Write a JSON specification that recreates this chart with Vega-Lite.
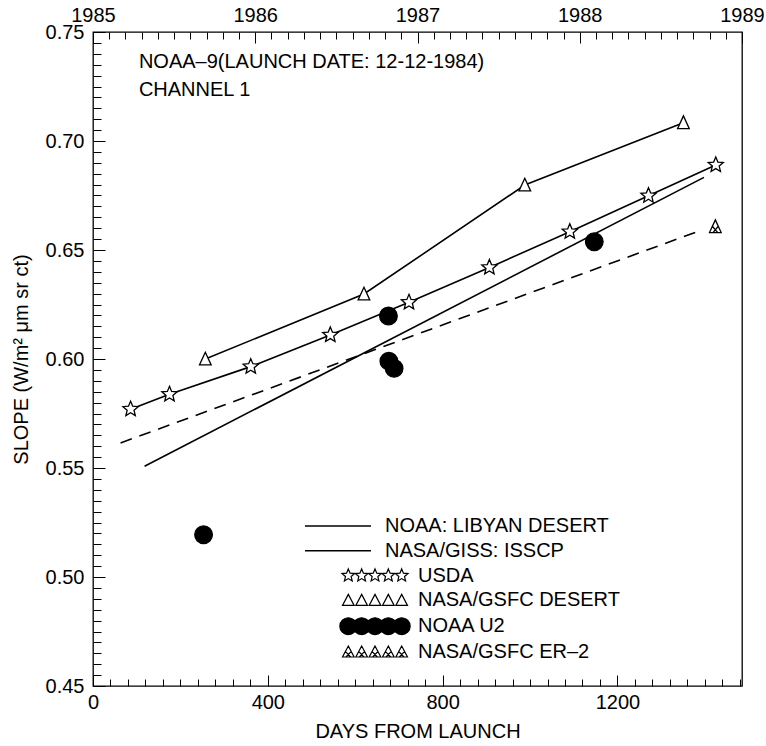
{
  "$schema": "https://vega.github.io/schema/vega-lite/v6.json",
  "width": 649,
  "height": 654,
  "autosize": {"type": "none"},
  "padding": {"left": 93, "top": 32, "right": 24, "bottom": 60},
  "datasets": {
    "obs": [
      {"series": "USDA", "days": 86, "slope": 0.577},
      {"series": "USDA", "days": 175, "slope": 0.5838},
      {"series": "USDA", "days": 361, "slope": 0.5965},
      {"series": "USDA", "days": 543, "slope": 0.611},
      {"series": "USDA", "days": 723, "slope": 0.626},
      {"series": "USDA", "days": 907, "slope": 0.642},
      {"series": "USDA", "days": 1091, "slope": 0.6584},
      {"series": "USDA", "days": 1271, "slope": 0.6749},
      {"series": "USDA", "days": 1425, "slope": 0.689},
      {"series": "NASA/GSFC DESERT", "days": 257, "slope": 0.6},
      {"series": "NASA/GSFC DESERT", "days": 620, "slope": 0.6298},
      {"series": "NASA/GSFC DESERT", "days": 988, "slope": 0.6798},
      {"series": "NASA/GSFC DESERT", "days": 1351, "slope": 0.7084},
      {"series": "NOAA U2", "days": 253, "slope": 0.5194},
      {"series": "NOAA U2", "days": 676, "slope": 0.6197},
      {"series": "NOAA U2", "days": 677, "slope": 0.599},
      {"series": "NOAA U2", "days": 689, "slope": 0.5957},
      {"series": "NOAA U2", "days": 1147, "slope": 0.6538},
      {"series": "NASA/GSFC ER–2", "days": 1424, "slope": 0.6607},
      {"series": "NOAA: LIBYAN DESERT", "days": 118, "slope": 0.5508},
      {"series": "NOAA: LIBYAN DESERT", "days": 1398, "slope": 0.6833},
      {"series": "NASA/GISS: ISSCP", "days": 63, "slope": 0.5615},
      {"series": "NASA/GISS: ISSCP", "days": 1389, "slope": 0.6589}
    ],
    "notes": [
      {"label": "NOAA–9(LAUNCH DATE: 12-12-1984)", "days": 105, "slope": 0.7362},
      {"label": "CHANNEL 1", "days": 105, "slope": 0.7234}
    ],
    "years": [{"year": 1985}, {"year": 1989}]
  },
  "layer": [
    {
      "encoding": {
        "x": {
          "field": "days", "type": "quantitative",
          "scale": {"domain": [0, 1485], "nice": false, "zero": false},
          "axis": {
            "orient": "bottom",
            "values": [0,40,80,120,160,200,240,280,320,360,400,440,480,520,560,600,640,680,720,760,800,840,880,920,960,1000,1040,1080,1120,1160,1200,1240,1280,1320,1360,1400,1440,1480],
            "labelExpr": "datum.value % 400 === 0 ? format(datum.value, 'd') : ''",
            "tickSize": {"condition": {"test": "datum.value % 400 === 0", "value": -11}, "value": -7},
            "labelPadding": 17,
            "title": "DAYS FROM LAUNCH",
            "titlePadding": 5
          }
        },
        "y": {
          "field": "slope", "type": "quantitative",
          "scale": {"domain": [0.45, 0.75], "nice": false, "zero": false},
          "axis": {
            "orient": "left",
            "values": [0.45,0.455,0.46,0.465,0.47,0.475,0.48,0.485,0.49,0.495,0.5,0.505,0.51,0.515,0.52,0.525,0.53,0.535,0.54,0.545,0.55,0.555,0.56,0.565,0.57,0.575,0.58,0.585,0.59,0.595,0.6,0.605,0.61,0.615,0.62,0.625,0.63,0.635,0.64,0.645,0.65,0.655,0.66,0.665,0.67,0.675,0.68,0.685,0.69,0.695,0.7,0.705,0.71,0.715,0.72,0.725,0.73,0.735,0.74,0.745,0.75],
            "labelExpr": "abs(datum.value*20 - round(datum.value*20)) < 0.001 ? format(datum.value, '.2f') : ''",
            "tickSize": {"condition": {"test": "abs(datum.value*20 - round(datum.value*20)) < 0.001", "value": -12}, "value": -8},
            "labelPadding": 21,
            "title": "SLOPE (W/m² μm sr ct)",
            "titlePadding": 14
          }
        }
      },
      "layer": [
        {
          "data": {"name": "obs"},
          "transform": [{"filter": "datum.series === 'NOAA: LIBYAN DESERT' || datum.series === 'USDA' || datum.series === 'NASA/GSFC DESERT'"}],
          "mark": {"type": "line", "color": "black", "strokeWidth": 1.6},
          "encoding": {"detail": {"field": "series", "type": "nominal"}}
        },
        {
          "data": {"name": "obs"},
          "transform": [{"filter": "datum.series === 'NASA/GISS: ISSCP'"}],
          "mark": {"type": "line", "color": "black", "strokeWidth": 1.6, "strokeDash": [12, 8]},
          "encoding": {"detail": {"field": "series", "type": "nominal"}}
        },
        {
          "data": {"name": "obs"},
          "transform": [{"filter": "datum.series === 'USDA' || datum.series === 'NASA/GSFC DESERT' || datum.series === 'NOAA U2' || datum.series === 'NASA/GSFC ER–2'"}],
          "mark": {"type": "point", "filled": true, "stroke": "black", "strokeWidth": 1.3, "size": 256, "opacity": 1},
          "encoding": {
            "shape": {
              "field": "series", "type": "nominal",
              "scale": {
                "domain": ["USDA", "NASA/GSFC DESERT", "NOAA U2", "NASA/GSFC ER–2"],
                "range": [
                  "M0,-1L0.265,-0.364L0.951,-0.309L0.428,0.139L0.588,0.809L0,0.45L-0.588,0.809L-0.428,0.139L-0.951,-0.309L-0.265,-0.364Z",
                  "M0,-0.85L0.73,0.74L-0.73,0.74Z",
                  "M-1.1,0A1.1,1.1 0 1,0 1.1,0A1.1,1.1 0 1,0 -1.1,0Z",
                  "M0,-0.85L0.73,0.74L-0.73,0.74ZM-0.37,-0.05L0.3,0.74M0.37,-0.05L-0.3,0.74"
                ]
              },
              "legend": null
            },
            "fill": {
              "field": "series", "type": "nominal",
              "scale": {
                "domain": ["NOAA: LIBYAN DESERT", "NASA/GISS: ISSCP", "USDA", "NASA/GSFC DESERT", "NOAA U2", "NASA/GSFC ER–2"],
                "range": ["transparent", "transparent", "white", "white", "black", "white"]
              },
              "legend": {
                "title": null,
                "orient": "none",
                "legendX": 272,
                "legendY": 484,
                "padding": 0,
                "rowPadding": 4.8,
                "labelOffset": {"expr": "(datum.value === 'NOAA: LIBYAN DESERT' || datum.value === 'NASA/GISS: ISSCP') ? 0 : 33"},
                "symbolSize": 178,
                "symbolStrokeColor": "black",
                "symbolStrokeWidth": {"expr": "(datum.value === 'NOAA: LIBYAN DESERT' || datum.value === 'NASA/GISS: ISSCP') ? 1.6 : 1.2"},
                "symbolType": {"expr": "datum.value === 'USDA' ? 'M-10.6,0M5.3,0M-4,-1L-3.735,-0.364L-3.049,-0.309L-3.572,0.139L-3.412,0.809L-4,0.45L-4.588,0.809L-4.428,0.139L-4.951,-0.309L-4.265,-0.364ZM-2,-1L-1.735,-0.364L-1.049,-0.309L-1.572,0.139L-1.412,0.809L-2,0.45L-2.588,0.809L-2.428,0.139L-2.951,-0.309L-2.265,-0.364ZM0,-1L0.265,-0.364L0.951,-0.309L0.428,0.139L0.588,0.809L0,0.45L-0.588,0.809L-0.428,0.139L-0.951,-0.309L-0.265,-0.364ZM2,-1L2.265,-0.364L2.951,-0.309L2.428,0.139L2.588,0.809L2,0.45L1.412,0.809L1.572,0.139L1.049,-0.309L1.735,-0.364ZM4,-1L4.265,-0.364L4.951,-0.309L4.428,0.139L4.588,0.809L4,0.45L3.412,0.809L3.572,0.139L3.049,-0.309L3.735,-0.364Z' : datum.value === 'NASA/GSFC DESERT' ? 'M-10.6,0M5.3,0M-4,-0.9L-3.13,0.75L-4.87,0.75ZM-2,-0.9L-1.13,0.75L-2.87,0.75ZM0,-0.9L0.87,0.75L-0.87,0.75ZM2,-0.9L2.87,0.75L1.13,0.75ZM4,-0.9L4.87,0.75L3.13,0.75Z' : datum.value === 'NOAA U2' ? 'M-10.6,0M5.3,0M-5.27,0A1.27,1.27 0 1,0 -2.73,0A1.27,1.27 0 1,0 -5.27,0ZM-3.27,0A1.27,1.27 0 1,0 -0.73,0A1.27,1.27 0 1,0 -3.27,0ZM-1.27,0A1.27,1.27 0 1,0 1.27,0A1.27,1.27 0 1,0 -1.27,0ZM0.73,0A1.27,1.27 0 1,0 3.27,0A1.27,1.27 0 1,0 0.73,0ZM2.73,0A1.27,1.27 0 1,0 5.27,0A1.27,1.27 0 1,0 2.73,0Z' : datum.value === 'NASA/GSFC ER–2' ? 'M-10.6,0M5.3,0M-4,-0.9L-3.13,0.75L-4.87,0.75ZM-4.45,-0.1L-3.65,0.75M-3.55,-0.1L-4.35,0.75M-2,-0.9L-1.13,0.75L-2.87,0.75ZM-2.45,-0.1L-1.65,0.75M-1.55,-0.1L-2.35,0.75M0,-0.9L0.87,0.75L-0.87,0.75ZM-0.45,-0.1L0.35,0.75M0.45,-0.1L-0.35,0.75M2,-0.9L2.87,0.75L1.13,0.75ZM1.55,-0.1L2.35,0.75M2.45,-0.1L1.65,0.75M4,-0.9L4.87,0.75L3.13,0.75ZM3.55,-0.1L4.35,0.75M4.45,-0.1L3.65,0.75' : 'M-10.6,0M5.3,0M-10.5,0H-0.6'"},
                "labelFont": "Liberation Sans",
                "labelFontSize": 20,
                "labelColor": "black",
                "labelLimit": 400
              }
            }
          }
        },
        {
          "data": {"name": "notes"},
          "mark": {"type": "text", "align": "left", "baseline": "middle", "fontSize": 20, "font": "Liberation Sans", "color": "black"},
          "encoding": {"text": {"field": "label", "type": "nominal"}}
        }
      ]
    },
    {
      "data": {"name": "years"},
      "mark": {"type": "point", "opacity": 0},
      "encoding": {
        "x": {
          "field": "year", "type": "quantitative",
          "scale": {"domain": [1985, 1989], "nice": false, "zero": false},
          "axis": {
            "orient": "top",
            "values": [1985,1985.1,1985.2,1985.3,1985.4,1985.5,1985.6,1985.7,1985.8,1985.9,1986,1986.1,1986.2,1986.3,1986.4,1986.5,1986.6,1986.7,1986.8,1986.9,1987,1987.1,1987.2,1987.3,1987.4,1987.5,1987.6,1987.7,1987.8,1987.9,1988,1988.1,1988.2,1988.3,1988.4,1988.5,1988.6,1988.7,1988.8,1988.9,1989],
            "labelExpr": "abs(datum.value - round(datum.value)) < 0.001 ? format(datum.value, 'd') : ''",
            "tickSize": {"condition": {"test": "abs(datum.value - round(datum.value)) < 0.001", "value": -11}, "value": -7},
            "labelPadding": 18,
            "title": null
          }
        }
      }
    }
  ],
  "resolve": {"scale": {"x": "independent"}},
  "config": {
    "view": {"stroke": "black", "strokeWidth": 1.3},
    "font": "Liberation Sans",
    "axis": {
      "domain": false,
      "grid": false,
      "labelFont": "Liberation Sans",
      "labelFontSize": 20,
      "labelColor": "black",
      "labelOverlap": false,
      "labelFlush": false,
      "tickColor": "black",
      "tickWidth": 1,
      "titleFont": "Liberation Sans",
      "titleFontSize": 20,
      "titleFontWeight": "normal",
      "titleColor": "black"
    }
  }
}
